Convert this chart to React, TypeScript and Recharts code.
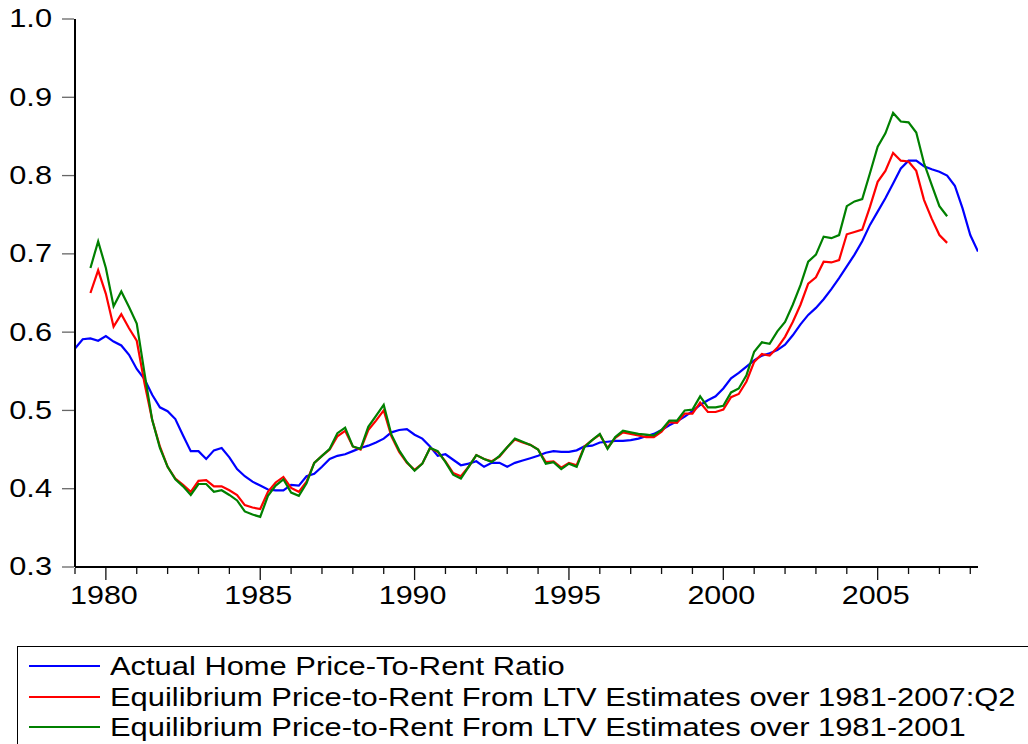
import React from 'react';
import { Line, LineChart, XAxis, YAxis } from 'recharts';

// quarterly data, first observation 1979:Q1
const START_YEAR = 1979;
const END_YEAR = 2008.25;
// equilibrium series start two quarters later (1979:Q3)
const EQ_OFFSET = 2;

const yearTicks = [
  1979, 1980, 1981, 1982, 1983, 1984, 1985, 1986, 1987, 1988, 1989, 1990, 1991, 1992, 1993,
  1994, 1995, 1996, 1997, 1998, 1999, 2000, 2001, 2002, 2003, 2004, 2005, 2006, 2007, 2008,
];
const labelYears = [1980, 1985, 1990, 1995, 2000, 2005];
const valueTicks = [0.3, 0.4, 0.5, 0.6, 0.7, 0.8, 0.9, 1.0];

const actual = [
  0.579, 0.591, 0.592, 0.589, 0.595, 0.588, 0.583, 0.571, 0.553, 0.540,
  0.520, 0.504, 0.499, 0.489, 0.468, 0.448, 0.448, 0.438, 0.449, 0.452,
  0.440, 0.425, 0.416, 0.409, 0.404, 0.399, 0.398, 0.398, 0.405, 0.404,
  0.416, 0.419, 0.428, 0.438, 0.442, 0.444, 0.448, 0.452, 0.455, 0.459,
  0.464, 0.472, 0.475, 0.476, 0.469, 0.464, 0.454, 0.442, 0.444, 0.437,
  0.430, 0.432, 0.435, 0.428, 0.433, 0.433, 0.428, 0.433, 0.436, 0.439,
  0.442, 0.446, 0.448, 0.447, 0.447, 0.449, 0.454, 0.455, 0.459, 0.460,
  0.461, 0.461, 0.462, 0.464, 0.467, 0.470, 0.475, 0.481, 0.486, 0.492,
  0.499, 0.507, 0.513, 0.518, 0.528, 0.541, 0.548, 0.556, 0.564, 0.570,
  0.573, 0.577, 0.584, 0.596, 0.610, 0.622, 0.631, 0.642, 0.655, 0.669,
  0.684, 0.699, 0.716, 0.737, 0.754, 0.771, 0.790, 0.809, 0.819, 0.819,
  0.812, 0.808, 0.805, 0.800, 0.787, 0.758, 0.724, 0.703,
];

const ltvFull = [
  0.650, 0.679, 0.649, 0.607, 0.623, 0.605, 0.589, 0.535, 0.488, 0.454,
  0.428, 0.413, 0.405, 0.396, 0.410, 0.411, 0.403, 0.403, 0.398, 0.392,
  0.379, 0.376, 0.374, 0.396, 0.408, 0.415, 0.401, 0.396, 0.409, 0.433,
  0.442, 0.450, 0.467, 0.474, 0.454, 0.450, 0.475, 0.487, 0.500, 0.467,
  0.447, 0.433, 0.424, 0.432, 0.452, 0.447, 0.435, 0.420, 0.416, 0.428,
  0.443, 0.438, 0.435, 0.441, 0.453, 0.463, 0.459, 0.456, 0.450, 0.434,
  0.435, 0.427, 0.433, 0.430, 0.454, 0.462, 0.469, 0.452, 0.465, 0.472,
  0.470, 0.468, 0.466, 0.466, 0.473, 0.485, 0.484, 0.496, 0.496, 0.510,
  0.498, 0.498, 0.501, 0.517, 0.521, 0.537, 0.562, 0.572, 0.570, 0.580,
  0.594, 0.613, 0.635, 0.662, 0.670, 0.690, 0.689, 0.692, 0.725, 0.728,
  0.731, 0.760, 0.792, 0.806, 0.829, 0.819, 0.818, 0.806, 0.769, 0.745,
  0.724, 0.714,
];

const ltv2001 = [
  0.682, 0.716, 0.682, 0.633, 0.652, 0.632, 0.611, 0.548, 0.488, 0.452,
  0.428, 0.412, 0.403, 0.392, 0.406, 0.406, 0.396, 0.398, 0.392, 0.385,
  0.371, 0.367, 0.364, 0.391, 0.404, 0.412, 0.395, 0.391, 0.407, 0.433,
  0.442, 0.451, 0.471, 0.478, 0.454, 0.451, 0.479, 0.493, 0.507, 0.469,
  0.449, 0.434, 0.423, 0.432, 0.452, 0.448, 0.434, 0.418, 0.413, 0.428,
  0.443, 0.438, 0.434, 0.442, 0.453, 0.464, 0.460, 0.456, 0.450, 0.432,
  0.434, 0.425, 0.432, 0.428, 0.453, 0.462, 0.470, 0.451, 0.466, 0.474,
  0.472, 0.470, 0.469, 0.468, 0.475, 0.487, 0.487, 0.500, 0.501, 0.518,
  0.504, 0.504, 0.506, 0.523, 0.528, 0.545, 0.575, 0.587, 0.585, 0.601,
  0.613, 0.635, 0.660, 0.690, 0.699, 0.722, 0.720, 0.724, 0.761, 0.767,
  0.770, 0.803, 0.837, 0.854, 0.880, 0.869, 0.868, 0.855, 0.816, 0.788,
  0.761, 0.748,
];

const seriesKeys = ['actual', 'ltvFull', 'ltv2001'];
const seriesNames = [
  'Actual Home Price-To-Rent Ratio',
  'Equilibrium Price-to-Rent From LTV Estimates over 1981-2007:Q2',
  'Equilibrium Price-to-Rent From LTV Estimates over 1981-2001',
];
const seriesColors = ['#0000ff', '#ff0000', '#008000'];

const pick = (arr: number[], i: number) => {
  const k = i - EQ_OFFSET;
  return k >= 0 && k < arr.length ? arr[k] : null;
};

const data = actual.map((v, i) => ({
  t: START_YEAR + i / 4,
  actual: v,
  ltvFull: pick(ltvFull, i),
  ltv2001: pick(ltv2001, i),
}));

const FONT = '"Liberation Sans", Arial, Helvetica, sans-serif';

const XTick = (props: any) => {
  const { x, y, payload } = props;
  const major = labelYears.includes(payload.value);
  return (
    <g>
      <line x1={x} x2={x} y1={y + 1} y2={y + (major ? 13 : 7)} stroke="#111" strokeWidth={1.3} />
      {major && (
        <text
          transform={`translate(${x - 2},${y + 28}) scale(1.22,1)`}
          textAnchor="middle"
          dominantBaseline="central"
          fontFamily={FONT}
          fontSize={25}
          fill="#000"
        >
          {payload.value}
        </text>
      )}
    </g>
  );
};

const YTick = (props: any) => {
  const { x, y, payload } = props;
  return (
    <g>
      <line x1={x - 13} x2={x - 1} y1={y} y2={y} stroke="#666" strokeWidth={1.3} />
      <text
        transform={`translate(${x - 23},${y}) scale(1.23,1)`}
        textAnchor="end"
        dominantBaseline="central"
        fontFamily={FONT}
        fontSize={25}
        fill="#000"
      >
        {payload.value.toFixed(1)}
      </text>
    </g>
  );
};

const LegendBox = () => (
  <div
    style={{
      position: 'absolute',
      left: 17,
      top: 646,
      width: 1040,
      height: 120,
      border: '1.5px solid #000',
      boxSizing: 'border-box',
      fontFamily: FONT,
    }}
  >
    {seriesNames.map((name, i) => (
      <div key={name} style={{ position: 'absolute', left: 0, top: 19 + i * 30.5, height: 0 }}>
        <div
          style={{
            position: 'absolute',
            left: 11,
            top: -1,
            width: 71,
            height: 2,
            background: seriesColors[i],
          }}
        />
        <div
          style={{
            position: 'absolute',
            left: 92,
            top: -15,
            fontSize: 25,
            lineHeight: '30px',
            whiteSpace: 'nowrap',
            transform: 'scaleX(1.235)',
            transformOrigin: 'left center',
            color: '#000',
          }}
        >
          {name}
        </div>
      </div>
    ))}
  </div>
);

export default function App() {
  return (
    <div
      style={{
        position: 'absolute',
        left: 0,
        top: 0,
        width: 1028,
        height: 744,
        overflow: 'hidden',
        background: '#fff',
      }}
    >
      <LineChart
        width={1028}
        height={620}
        data={data}
        margin={{ top: 19, right: 50, bottom: 0, left: 0 }}
      >
        <XAxis
          dataKey="t"
          type="number"
          domain={[START_YEAR, END_YEAR]}
          allowDataOverflow
          ticks={yearTicks}
          interval={0}
          tickSize={0}
          tickMargin={0}
          tickLine={false}
          tick={<XTick />}
          height={53}
          axisLine={{ stroke: '#000', strokeWidth: 2 }}
        />
        <XAxis
          xAxisId="top"
          orientation="top"
          dataKey="t"
          type="number"
          domain={[START_YEAR, END_YEAR]}
          allowDataOverflow
          tick={false}
          tickLine={false}
          height={0}
          axisLine={{ stroke: '#555', strokeWidth: 1.5 }}
        />
        <YAxis
          type="number"
          domain={[0.3, 1.0]}
          allowDataOverflow
          ticks={valueTicks}
          interval={0}
          tickSize={0}
          tickMargin={0}
          tickLine={false}
          tick={<YTick />}
          width={75}
          axisLine={{ stroke: '#000', strokeWidth: 2 }}
        />
        <YAxis
          yAxisId="right"
          orientation="right"
          type="number"
          domain={[0.3, 1.0]}
          allowDataOverflow
          tick={false}
          tickLine={false}
          width={0}
          axisLine={{ stroke: '#000', strokeWidth: 2 }}
        />
        {seriesKeys.map((key, i) => (
          <Line
            key={key}
            type="linear"
            dataKey={key}
            name={seriesNames[i]}
            stroke={seriesColors[i]}
            strokeWidth={2.2}
            dot={false}
            activeDot={false}
            isAnimationActive={false}
          />
        ))}
      </LineChart>
      <LegendBox />
    </div>
  );
}
